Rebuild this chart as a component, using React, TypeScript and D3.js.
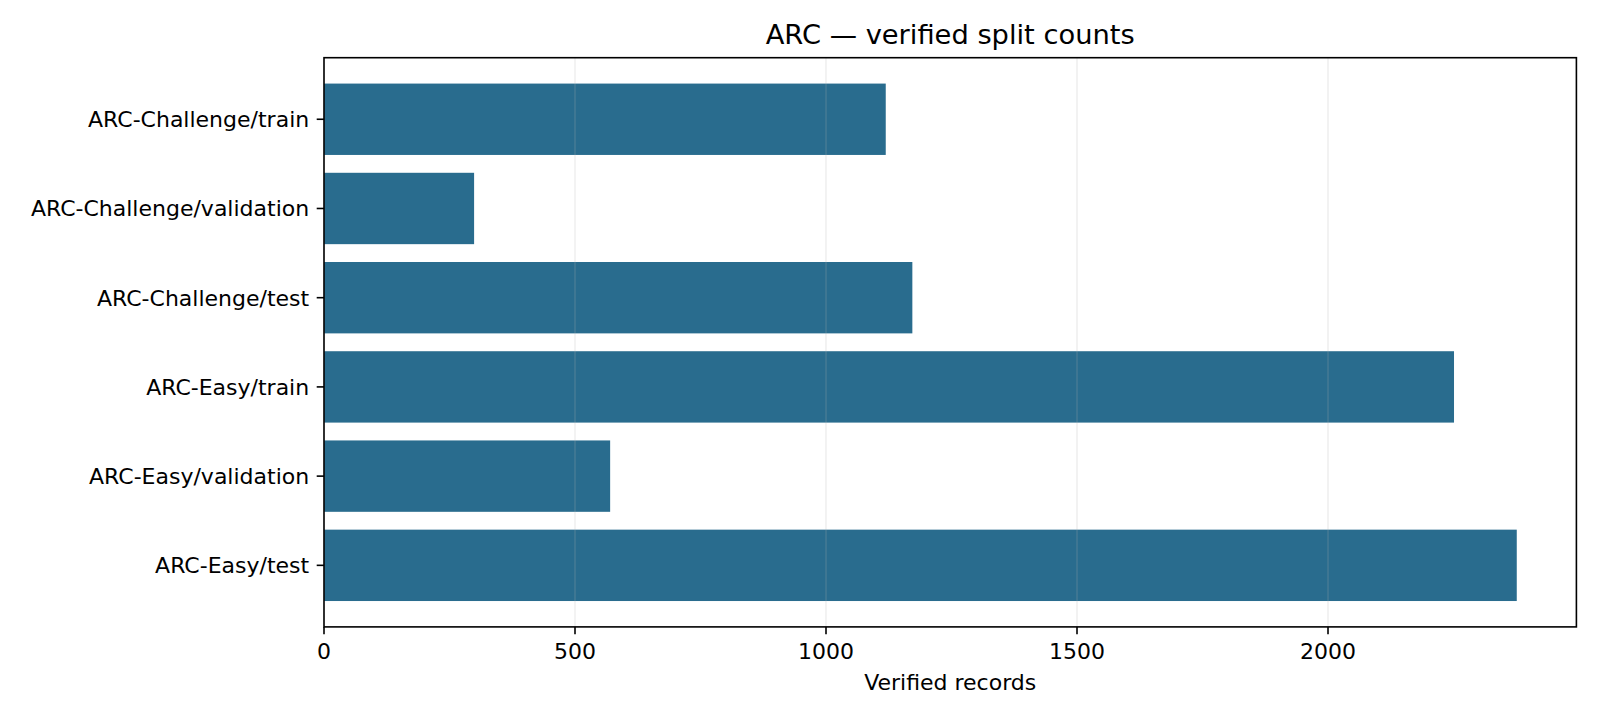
import React, { useEffect } from "react";
import * as d3 from "d3";

const categories = [
  "ARC-Challenge/train",
  "ARC-Challenge/validation",
  "ARC-Challenge/test",
  "ARC-Easy/train",
  "ARC-Easy/validation",
  "ARC-Easy/test",
];
const counts = [1119, 299, 1172, 2251, 570, 2376];
const xTicks = [0, 500, 1000, 1500, 2000];
const title = "ARC — verified split counts";
const xLabel = "Verified records";

const W = 1600;
const H = 720;
const left = 324;
const right = 1576.4;
const top = 57.7;
const bottom = 626.9;
const font = "DejaVu Sans, sans-serif";
const barColor = "#296c8e";
const labelSize = 22;
const titleSize = 27.3;
const lw = 1.6;
const tickLen = 7.3;

export default function App() {
  useEffect(() => {
    document.body.style.margin = "0";
    document.body.style.overflow = "hidden";
    document.documentElement.style.overflow = "hidden";
  }, []);

  const maxV = d3.max(counts) as number;
  const x = d3.scaleLinear().domain([0, maxV * 1.05]).range([left, right]);
  const n = categories.length;
  const pad = 0.29;
  const y = d3
    .scaleLinear()
    .domain([-0.4 - pad, n - 1 + 0.4 + pad])
    .range([top, bottom]);
  const barH = y(0.8) - y(0);

  return (
    <svg
      width={W}
      height={H}
      viewBox={`0 0 ${W} ${H}`}
      style={{ display: "block", background: "#fff" }}
      fontFamily={font}
    >
      <rect x={0} y={0} width={W} height={H} fill="#fff" />
      {categories.map((c, i) => (
        <rect
          key={c}
          x={x(0)}
          y={y(i) - barH / 2}
          width={x(counts[i]) - x(0)}
          height={barH}
          fill={barColor}
        />
      ))}
      {xTicks.map((t) => (
        <line
          key={"g" + t}
          x1={x(t)}
          x2={x(t)}
          y1={top}
          y2={bottom}
          stroke="#b0b0b0"
          strokeOpacity={0.2}
          strokeWidth={lw}
        />
      ))}
      <rect
        x={left}
        y={top}
        width={right - left}
        height={bottom - top}
        fill="none"
        stroke="#000"
        strokeWidth={lw}
      />
      {xTicks.map((t) => (
        <g key={"t" + t}>
          <line x1={x(t)} x2={x(t)} y1={bottom} y2={bottom + tickLen} stroke="#000" strokeWidth={lw} />
          <text x={x(t)} y={bottom + 32.5} textAnchor="middle" fontSize={labelSize} fill="#000">
            {t}
          </text>
        </g>
      ))}
      {categories.map((c, i) => (
        <g key={"y" + c}>
          <line x1={left - tickLen} x2={left} y1={y(i)} y2={y(i)} stroke="#000" strokeWidth={lw} />
          <text
            x={left - tickLen - 7.5}
            y={y(i)}
            dy="0.36em"
            textAnchor="end"
            fontSize={labelSize}
            fill="#000"
          >
            {c}
          </text>
        </g>
      ))}
      <text x={(left + right) / 2} y={690} textAnchor="middle" fontSize={labelSize} fill="#000">
        {xLabel}
      </text>
      <text x={(left + right) / 2} y={44.3} textAnchor="middle" fontSize={titleSize} fill="#000">
        {title}
      </text>
    </svg>
  );
}
